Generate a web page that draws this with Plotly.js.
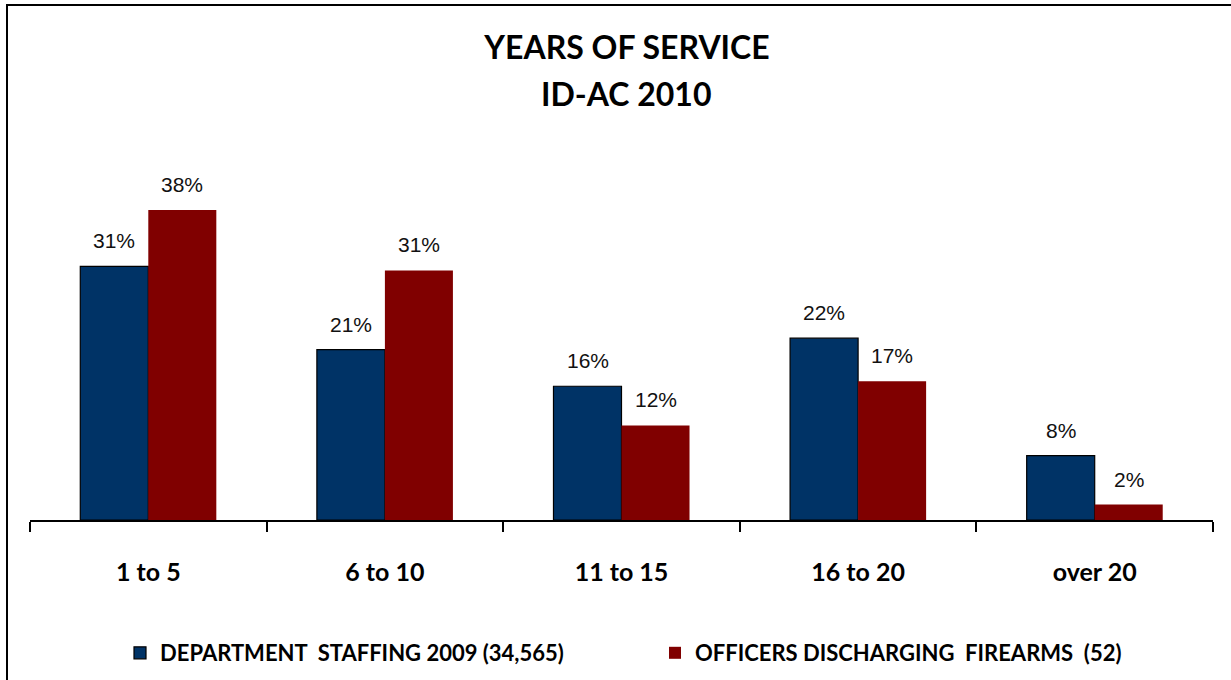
<!DOCTYPE html>
<html>
<head>
<meta charset="utf-8">
<script src="https://cdn.plot.ly/plotly-3.0.1.min.js"></script>
<style>
  html, body { margin: 0; padding: 0; background: #fff; }
  #chart { width: 1231px; height: 680px; }
</style>
</head>
<body>
<div id="chart"></div>
<script>
// ---- data ----
const categories = ['1 to 5', '6 to 10', '11 to 15', '16 to 20', 'over 20'];
const staffingValues = [31.1, 20.9, 16.4, 22.3, 7.9];
const officersValues = [38.0, 30.6, 11.6, 17.0, 1.9];
const staffingName = 'DEPARTMENT\u00a0 STAFFING 2009 (34,565)';
const officersName = 'OFFICERS DISCHARGING\u00a0 FIREARMS\u00a0 (52)';
const titleLine1 = 'YEARS OF SERVICE';
const titleLine2 = 'ID-AC 2010';

// ---- styles ----
const BLUE = '#003366';
const RED = '#800000';
const W = 1231, H = 680;
const M = { l: 30, r: 18, t: 153, b: 160 };
const plotW = W - M.l - M.r, plotH = H - M.t - M.b;
const px2paperX = px => (px - M.l) / plotW;
const px2paperY = py => (H - M.b - py) / plotH;

const traces = [
  {
    type: 'bar', name: staffingName, x: categories, y: staffingValues,
    marker: { color: BLUE, line: { color: '#000', width: 1.2 } },
    hoverinfo: 'x+y'
  },
  {
    type: 'bar', name: officersName, x: categories, y: officersValues,
    marker: { color: RED, line: { width: 0 } },
    hoverinfo: 'x+y'
  }
];

const labelFont = { family: 'Liberation Sans, Arial, sans-serif', size: 21, color: '#111' };
const titleFont = { family: 'Lato, sans-serif', size: 32, weight: 700, color: '#000' };
const annotations = [];
categories.forEach((c, i) => {
  annotations.push({ x: c, y: staffingValues[i], xref: 'x', yref: 'y', text: Math.round(staffingValues[i]) + '%',
    showarrow: false, xanchor: 'center', yanchor: 'bottom', xshift: -34, yshift: 12, font: labelFont });
  annotations.push({ x: c, y: officersValues[i], xref: 'x', yref: 'y', text: Math.round(officersValues[i]) + '%',
    showarrow: false, xanchor: 'center', yanchor: 'bottom', xshift: 34, yshift: 12, font: labelFont });
});
annotations.push({
  text: titleLine2, xref: 'paper', yref: 'paper', x: px2paperX(626), y: px2paperY(94),
  xanchor: 'center', yanchor: 'middle', showarrow: false, font: titleFont
});

const layout = {
  width: W, height: H,
  margin: { l: M.l, r: M.r, t: M.t, b: M.b, pad: 0, autoexpand: false },
  paper_bgcolor: '#fff', plot_bgcolor: '#fff',
  title: {
    text: titleLine1, x: 627 / W, xref: 'container', xanchor: 'center',
    y: 1 - 48 / H, yref: 'container', yanchor: 'middle',
    font: titleFont, automargin: false
  },
  barmode: 'group', bargap: 0.425, bargroupgap: 0,
  xaxis: {
    type: 'category', showline: true, linecolor: '#000', linewidth: 2,
    ticks: 'outside', tickson: 'boundaries', ticklen: 10, tickwidth: 2, tickcolor: '#000',
    tickfont: { family: 'Lato, sans-serif', size: 25, weight: 700, color: '#000' },
    ticklabelstandoff: 29,
    showgrid: false, zeroline: false, fixedrange: true
  },
  yaxis: { range: [0, 45], visible: false, showgrid: false, zeroline: false, fixedrange: true },
  showlegend: true,
  legend: {
    orientation: 'h', x: px2paperX(120), xanchor: 'left', y: px2paperY(653), yanchor: 'middle',
    font: { family: 'Lato, sans-serif', size: 22, weight: 700, color: '#000' },
    entrywidth: 490, entrywidthmode: 'pixels', itemwidth: 30, traceorder: 'normal'
  },
  annotations: annotations,
  shapes: [{
    type: 'rect', xref: 'paper', yref: 'paper',
    x0: px2paperX(7), x1: px2paperX(1240), y0: px2paperY(690), y1: px2paperY(5),
    line: { color: '#000', width: 2 }, fillcolor: 'rgba(0,0,0,0)', layer: 'above'
  }]
};

Plotly.newPlot('chart', traces, layout, { displayModeBar: false, staticPlot: false });
</script>
</body>
</html>
